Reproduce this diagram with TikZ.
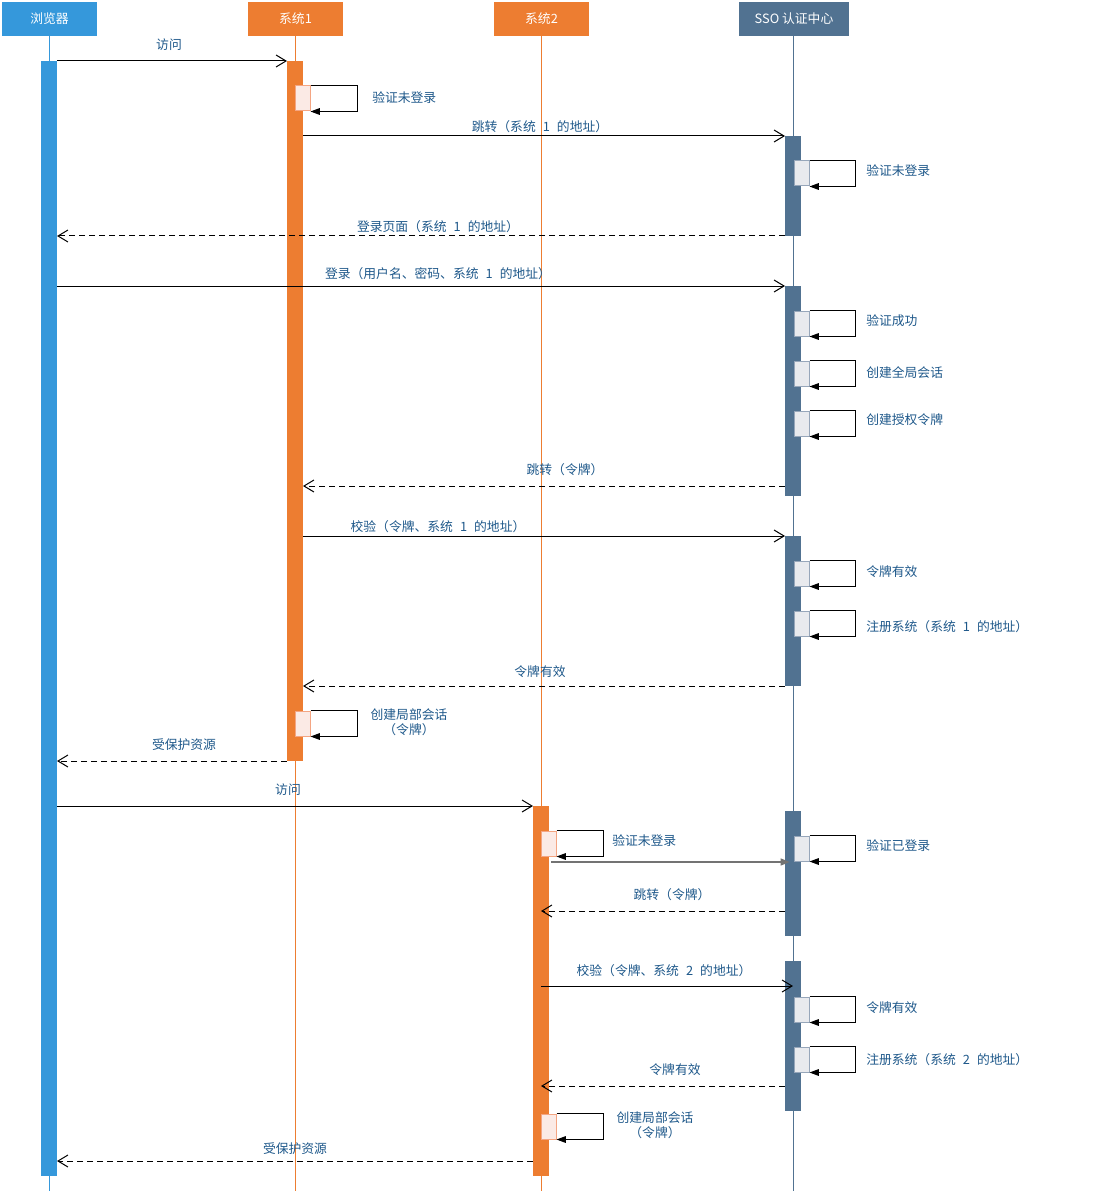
\documentclass[tikz,border=0pt]{standalone}
\usepackage{fontspec}
\usetikzlibrary{arrows.meta}
\newfontfamily\cjk{Noto Sans CJK SC}
\definecolor{browserblue}{RGB}{53,152,219}
\definecolor{sysorange}{RGB}{237,125,49}
\definecolor{ssoblue}{RGB}{81,114,145}
\definecolor{labelblue}{RGB}{30,88,138}
\definecolor{selfofill}{RGB}{251,234,229}
\definecolor{selfodraw}{RGB}{244,165,130}
\definecolor{selfbfill}{RGB}{232,234,238}
\definecolor{selfbdraw}{RGB}{150,166,186}
\newcommand{\nsp}[1]{\hspace{0.55em}#1\hspace{0.55em}}

\begin{document}
\begin{tikzpicture}[x=0.75pt,y=0.75pt,yscale=-1,xscale=1,
  head/.style={fill=#1,text=white,inner sep=0pt,minimum width=71.25pt,minimum height=25.5pt,font=\cjk\fontsize{9.6}{11}\selectfont},
  lbl/.style={text=labelblue,inner sep=0pt,font=\cjk\fontsize{9.6}{11}\selectfont},
  lbl2/.style={lbl,align=center,font=\cjk\fontsize{9.6}{11.25}\selectfont},
  selfo/.style={draw=selfodraw,fill=selfofill,line width=0.75pt,minimum width=11.25pt,minimum height=18.75pt,inner sep=0pt},
  selfb/.style={draw=selfbdraw,fill=selfbfill,line width=0.75pt,minimum width=11.25pt,minimum height=18.75pt,inner sep=0pt},
  selfloop/.style={draw=black,line width=0.75pt,-{Triangle[length=7pt,width=5pt]}},
  msg/.style={draw=black,line width=0.75pt,-{Straight Barb[length=7.5pt,width=9pt]}},
  reply/.style={msg,dash pattern=on 4.5pt off 3pt},
  gomsg/.style={draw=black!55,line width=1.5pt,-{Triangle[length=7pt,width=5pt]}}]
%uncomment if require: \path (0,1191); %set diagram left start at 0, and has height of 1191
\useasboundingbox (0,0) rectangle (1098,1191);

%Heads
\node[head=browserblue] (brH) at (49.5,19) {浏览器};
\node[head=sysorange] (s1H) at (295.5,19) {系统1};
\node[head=sysorange] (s2H) at (541.5,19) {系统2};
\node[head=ssoblue,minimum width=82.5pt] (ssoH) at (794,19) {SSO 认证中心};

%Lifelines
\coordinate (brEnd) at (49,1191);
\coordinate (s1End) at (295,1191);
\coordinate (s2End) at (541,1191);
\coordinate (ssoEnd) at (793,1191);
\draw[browserblue,line width=0.75pt] (brH.south -| brEnd) -- (brEnd);
\draw[sysorange,line width=0.75pt] (s1H.south -| s1End) -- (s1End);
\draw[sysorange,line width=0.75pt] (s2H.south -| s2End) -- (s2End);
\draw[ssoblue,line width=0.75pt] (ssoH.south -| ssoEnd) -- (ssoEnd);

%Activations
\fill[browserblue] (41,61) rectangle (57,1176);
\fill[sysorange] (287,61) rectangle (303,761);
\fill[sysorange] (533,806) rectangle (549,1176);
\fill[ssoblue] (785,136) rectangle (801,236);
\fill[ssoblue] (785,286) rectangle (801,496);
\fill[ssoblue] (785,536) rectangle (801,686);
\fill[ssoblue] (785,811) rectangle (801,936);
\fill[ssoblue] (785,961) rectangle (801,1111);

%Self calls
\node[selfo] (s1a) at (302.5,98.5) {};
\node[selfo] (s1b) at (302.5,723.5) {};
\node[selfo] (s2a) at (548.5,843.5) {};
\node[selfo] (s2b) at (548.5,1126.5) {};
\node[selfb] (ssoa) at (801.5,173.5) {};
\node[selfb] (ssob) at (801.5,323.5) {};
\node[selfb] (ssoc) at (801.5,373.5) {};
\node[selfb] (ssod) at (801.5,423.5) {};
\node[selfb] (ssoe) at (801.5,573.5) {};
\node[selfb] (ssof) at (801.5,623.5) {};
\node[selfb] (ssog) at (801.5,848.5) {};
\node[selfb] (ssoh) at (801.5,1009.5) {};
\node[selfb] (ssoi) at (801.5,1059.5) {};
\draw[selfloop] (s1a.north east) -- ++(47,0) |- (s1a.south east);
\draw[selfloop] (s1b.north east) -- ++(47,0) |- (s1b.south east);
\draw[selfloop] (s2a.north east) -- ++(47,0) |- (s2a.south east);
\draw[selfloop] (s2b.north east) -- ++(47,0) |- (s2b.south east);
\draw[selfloop] (ssoa.north east) -- ++(46,0) |- (ssoa.south east);
\draw[selfloop] (ssob.north east) -- ++(46,0) |- (ssob.south east);
\draw[selfloop] (ssoc.north east) -- ++(46,0) |- (ssoc.south east);
\draw[selfloop] (ssod.north east) -- ++(46,0) |- (ssod.south east);
\draw[selfloop] (ssoe.north east) -- ++(46,0) |- (ssoe.south east);
\draw[selfloop] (ssof.north east) -- ++(46,0) |- (ssof.south east);
\draw[selfloop] (ssog.north east) -- ++(46,0) |- (ssog.south east);
\draw[selfloop] (ssoh.north east) -- ++(46,0) |- (ssoh.south east);
\draw[selfloop] (ssoi.north east) -- ++(46,0) |- (ssoi.south east);

%Self call texts
\node[lbl,anchor=west] (t1) at (372,98) {验证未登录};
\node[lbl2] (t2) at (409,722) {创建局部会话\\（令牌）};
\node[lbl,anchor=west] (t3) at (612,841) {验证未登录};
\node[lbl2] (t4) at (655,1125) {创建局部会话\\（令牌）};
\node[lbl,anchor=west] (t5) at (866,171) {验证未登录};
\node[lbl,anchor=west] (t6) at (866,321) {验证成功};
\node[lbl,anchor=west] (t7) at (866,373) {创建全局会话};
\node[lbl,anchor=west] (t8) at (866,420) {创建授权令牌};
\node[lbl,anchor=west] (t9) at (866,572) {令牌有效};
\node[lbl,anchor=west] (t10) at (866,627) {注册系统（系统\nsp{1}的地址）};
\node[lbl,anchor=west] (t11) at (866,846) {验证已登录};
\node[lbl,anchor=west] (t12) at (866,1008) {令牌有效};
\node[lbl,anchor=west] (t13) at (866,1060) {注册系统（系统\nsp{2}的地址）};

%Messages
\coordinate (m1s) at (57,61);    \coordinate (m1e) at (287,61);
\coordinate (m2s) at (303,136);  \coordinate (m2e) at (785,136);
\coordinate (m3s) at (785,236);  \coordinate (m3e) at (57,236);
\coordinate (m4s) at (57,286);   \coordinate (m4e) at (785,286);
\coordinate (m5s) at (785,486);  \coordinate (m5e) at (303,486);
\coordinate (m6s) at (303,536);  \coordinate (m6e) at (785,536);
\coordinate (m7s) at (785,686);  \coordinate (m7e) at (303,686);
\coordinate (m8s) at (287,761);  \coordinate (m8e) at (57,761);
\coordinate (m9s) at (57,806);   \coordinate (m9e) at (533,806);
\coordinate (m10s) at (551,862); \coordinate (m10e) at (790,862);
\coordinate (m11s) at (785,911); \coordinate (m11e) at (541,911);
\coordinate (m12s) at (541,986); \coordinate (m12e) at (793,986);
\coordinate (m13s) at (785,1086);\coordinate (m13e) at (541,1086);
\coordinate (m14s) at (533,1161);\coordinate (m14e) at (57,1161);
\draw[msg] (m1s) -- (m1e);
\draw[msg] (m2s) -- (m2e);
\draw[reply] (m3s) -- (m3e);
\draw[msg] (m4s) -- (m4e);
\draw[reply] (m5s) -- (m5e);
\draw[msg] (m6s) -- (m6e);
\draw[reply] (m7s) -- (m7e);
\draw[reply] (m8s) -- (m8e);
\draw[msg] (m9s) -- (m9e);
\draw[gomsg] (m10s) -- (m10e);
\draw[reply] (m11s) -- (m11e);
\draw[msg] (m12s) -- (m12e);
\draw[reply] (m13s) -- (m13e);
\draw[reply] (m14s) -- (m14e);

%Message texts
\node[lbl] (l1) at (169,45) {访问};
\node[lbl] (l2) at (540,127) {跳转（系统\nsp{1}的地址）};
\node[lbl] (l3) at (438,227) {登录页面（系统\nsp{1}的地址）};
\node[lbl] (l4) at (438,274) {登录（用户名、密码、系统\nsp{1}的地址）};
\node[lbl] (l5) at (565,470) {跳转（令牌）};
\node[lbl] (l6) at (438,527) {校验（令牌、系统\nsp{1}的地址）};
\node[lbl] (l7) at (540,672) {令牌有效};
\node[lbl] (l8) at (184,745) {受保护资源};
\node[lbl] (l9) at (288,790) {访问};
\node[lbl] (l10) at (672,895) {跳转（令牌）};
\node[lbl] (l11) at (664,971) {校验（令牌、系统\nsp{2}的地址）};
\node[lbl] (l12) at (675,1070) {令牌有效};
\node[lbl] (l13) at (295,1149) {受保护资源};

\end{tikzpicture}
\end{document}
